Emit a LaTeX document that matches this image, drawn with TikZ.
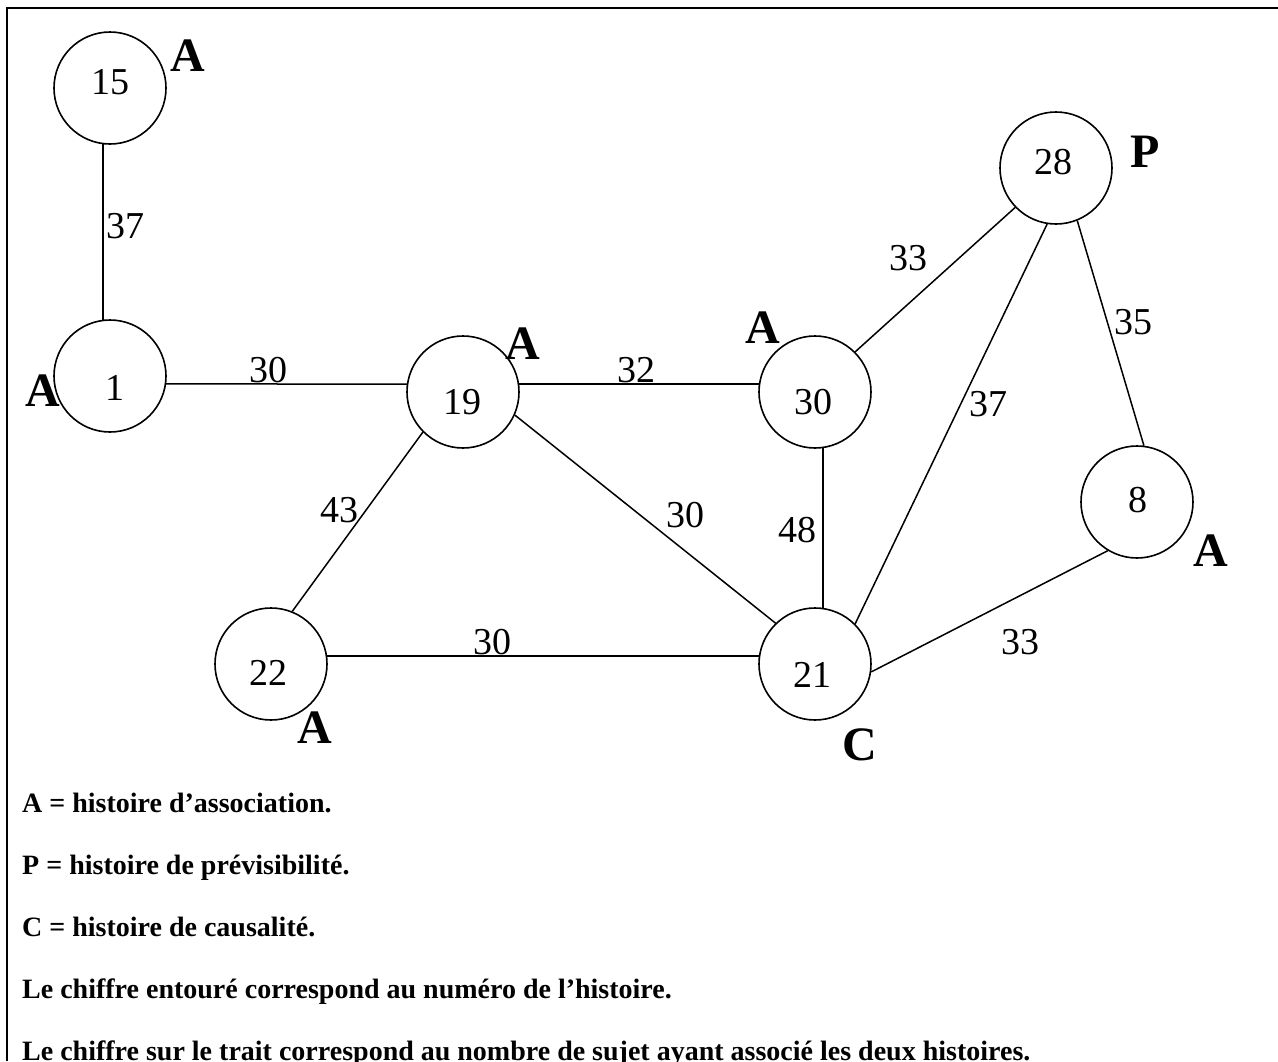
\documentclass[tikz,border=0pt]{standalone}
\usepackage{fontspec}
\setmainfont{Liberation Serif}
\begin{document}
\begin{tikzpicture}[x=1pt,y=-1pt,
  circ/.style={circle,draw,line width=1.6pt,minimum size=112pt,inner sep=0pt},
  num/.style={font=\fontsize{38}{40}\selectfont,inner sep=0pt},
  lab/.style={font=\fontsize{48}{50}\selectfont\bfseries,inner sep=0pt},
  conn/.style={line width=1.5pt},
  legend/.style={font=\fontsize{28}{30}\selectfont\bfseries,anchor=base west,inner sep=0pt}]
\useasboundingbox (0,0) rectangle (1278,1061);
\draw[line width=2.5pt] (7,1061) -- (7,8) -- (1278,8);

% circles
\node[circ] (c15) at (110,88) {};
\node[circ] (c1) at (110,376) {};
\node[circ] (c19) at (463,392) {};
\node[circ] (c30) at (815,392) {};
\node[circ] (c28) at (1056,168) {};
\node[circ] (c8) at (1137,502) {};
\node[circ] (c22) at (271,664) {};
\node[circ] (c21) at (815,664) {};

% numbers
\node[num] (t15) at (110,82) {15};
\node[num] (t1) at (115,388) {1};
\node[num] (t19) at (462,402) {19};
\node[num] (t30) at (813,402) {30};
\node[num] (t28) at (1053,162) {28};
\node[num] (t8) at (1138,500) {8};
\node[num] (t22) at (268,673) {22};
\node[num] (t21) at (812,675) {21};

% type labels
\node[lab] (l15) at (188,56) {A};
\node[lab] (l1) at (43,391) {A};
\node[lab] (l19) at (523,344) {A};
\node[lab] (l30) at (763,328) {A};
\node[lab] (l28) at (1145,152) {P};
\node[lab] (l8) at (1211,551) {A};
\node[lab] (l22) at (315,728) {A};
\node[lab] (l21) at (860,745) {C};

% connectors
\draw[conn] (c15.263) -- (c1.97);
\draw[conn] (c1.-8) -- (c19.172);
\draw[conn] (c19.8) -- (c30.172);
\draw[conn] (c19.225) -- (c22.68);
\draw[conn] (c19.-24) -- (c21.134);
\draw[conn] (c22.8) -- (c21.172);
\draw[conn] (c30.-82) -- (c21.82);
\draw[conn] (c30.45) -- (c28.224);
\draw[conn] (c28.261) -- (c21.45);
\draw[conn] (c28.-68) -- (c8.83);
\draw[conn] (c21.-8) -- (c8.239);

% edge weights
\node[num] (w1) at (125,226) {37};
\node[num] (w2) at (268,370) {30};
\node[num] (w3) at (636,370) {32};
\node[num] (w4) at (908,258) {33};
\node[num] (w5) at (1133,322) {35};
\node[num] (w6) at (988,404) {37};
\node[num] (w7) at (339,510) {43};
\node[num] (w8) at (685,515) {30};
\node[num] (w9) at (797,530) {48};
\node[num] (w10) at (492,642) {30};
\node[num] (w11) at (1020,642) {33};

% legend
\node[legend] (g1) at (22,812) {A = histoire d’association.};
\node[legend] (g2) at (22,874) {P = histoire de prévisibilité.};
\node[legend] (g3) at (22,936) {C = histoire de causalité.};
\node[legend] (g4) at (22,998) {Le chiffre entouré correspond au numéro de l’histoire.};
\node[legend] (g5) at (22,1060) {Le chiffre sur le trait correspond au nombre de sujet ayant associé les deux histoires.};
\end{tikzpicture}
\end{document}
